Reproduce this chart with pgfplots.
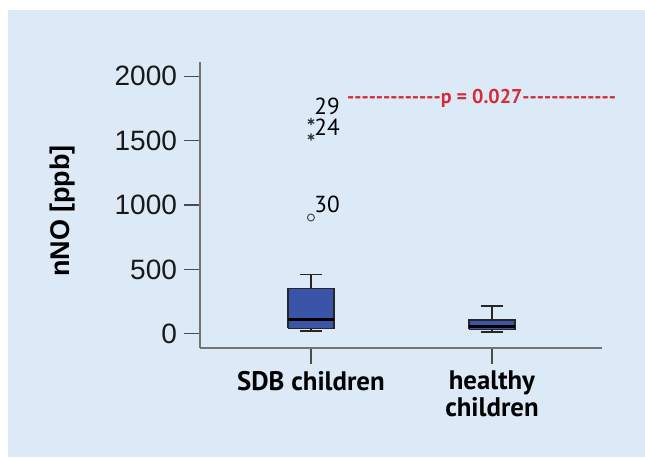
\documentclass[border=0pt]{standalone}
\usepackage{pgfplots}
\pgfplotsset{compat=1.18}
\usepackage{fontspec}
\setmainfont{Liberation Sans}
\newfontfamily\myriad{PT Sans}
\definecolor{panel}{RGB}{220,234,247}
\definecolor{boxblue}{RGB}{58,84,168}
\definecolor{pred}{RGB}{212,44,56}
\definecolor{axisgray}{RGB}{115,115,115}
% a run of separate hyphens (no dash ligatures)
\newcommand\hy{\mbox{-}}
\newcommand\dashrun{\hy\hy\hy\hy\hy\hy\hy\hy\hy\hy\hy\hy\hy}

\begin{document}
\begin{tikzpicture}
% page and panel (one pixel = 0.5pt, origin bottom left)
\fill[white] (0pt,0pt) rectangle (322.5pt,228.5pt);
\fill[panel] (4pt,0pt) rectangle (322.5pt,223.5pt);
\useasboundingbox (0pt,0pt) rectangle (322.5pt,228.5pt);
\begin{axis}[
  at={(100pt,54.5pt)}, anchor=south west,
  scale only axis, width=201pt, height=143pt,
  xmin=0.387, xmax=2.608, ymin=-110, ymax=2110,
  axis x line*=bottom, axis y line*=left,
  axis line style={axisgray, line width=1.1pt},
  tick align=outside,
  major tick length=8pt,
  tick style={black!70, line width=0.6pt},
  ytick={0,500,1000,1500,2000},
  xtick={1,2},
  xticklabels={SDB children,{healthy\\children}},
  /pgf/number format/assume math mode=true,
  /pgf/number format/1000 sep={},
  yticklabel style={font=\fontsize{14}{16}\selectfont, text=black!90},
  xticklabel style={font=\myriad\bfseries\fontsize{13.4}{12}\selectfont, align=center},
  ylabel={nNO [ppb]},
  ylabel style={at={(axis description cs:-0.341,0.479)}, anchor=center,
    font=\bfseries\fontsize{13.5}{16}\selectfont},
  clip=false,
]
% SDB children: box (Q1 = 42, Q3 = 353), median 114, whiskers 21 / 461
\addplot[fill=boxblue, draw=black!85, line width=0.8pt]
  coordinates {(0.873,42) (1.127,42) (1.127,353) (0.873,353) (0.873,42)};
\addplot[black, line width=1.6pt] coordinates {(0.873,114) (1.127,114)};
\addplot[black!85, line width=0.8pt] coordinates {(1,353) (1,461)};
\addplot[black!85, line width=0.8pt] coordinates {(0.939,461) (1.061,461)};
\addplot[black!85, line width=0.8pt] coordinates {(1,42) (1,21)};
\addplot[black!85, line width=0.8pt] coordinates {(0.939,21) (1.061,21)};
% healthy children: box (Q1 = 34, Q3 = 109), median 54, whiskers 16 / 215
\addplot[fill=boxblue, draw=black!85, line width=0.8pt]
  coordinates {(1.873,34) (2.127,34) (2.127,109) (1.873,109) (1.873,34)};
\addplot[black, line width=1.6pt] coordinates {(1.873,54) (2.127,54)};
\addplot[black!85, line width=0.8pt] coordinates {(2,109) (2,215)};
\addplot[black!85, line width=0.8pt] coordinates {(1.939,215) (2.061,215)};
\addplot[black!85, line width=0.8pt] coordinates {(2,34) (2,16)};
\addplot[black!85, line width=0.8pt] coordinates {(1.939,16) (2.061,16)};
% outlier and extremes
\addplot[only marks, mark=o, mark size=1.75pt, black!70, line width=0.5pt]
  coordinates {(1,903)};
\addplot[only marks, mark=asterisk, mark size=1.8pt, black!80, line width=0.6pt]
  coordinates {(1,1648) (1,1528)};
\node[anchor=base west, inner sep=0, font=\myriad\fontsize{11.6}{12}\selectfont] at (axis cs:1.017,1700) {29};
\node[anchor=base west, inner sep=0, font=\myriad\fontsize{11.6}{12}\selectfont] at (axis cs:1.017,1540) {24};
\node[anchor=base west, inner sep=0, font=\myriad\fontsize{11.6}{12}\selectfont] at (axis cs:1.017,944) {30};
% significance
\node[inner sep=0, text=pred, font=\myriad\bfseries\fontsize{10}{10}\selectfont]
  at (axis cs:1.943,1829) {\dashrun p = 0.027\dashrun};
\end{axis}
\end{tikzpicture}
\end{document}
